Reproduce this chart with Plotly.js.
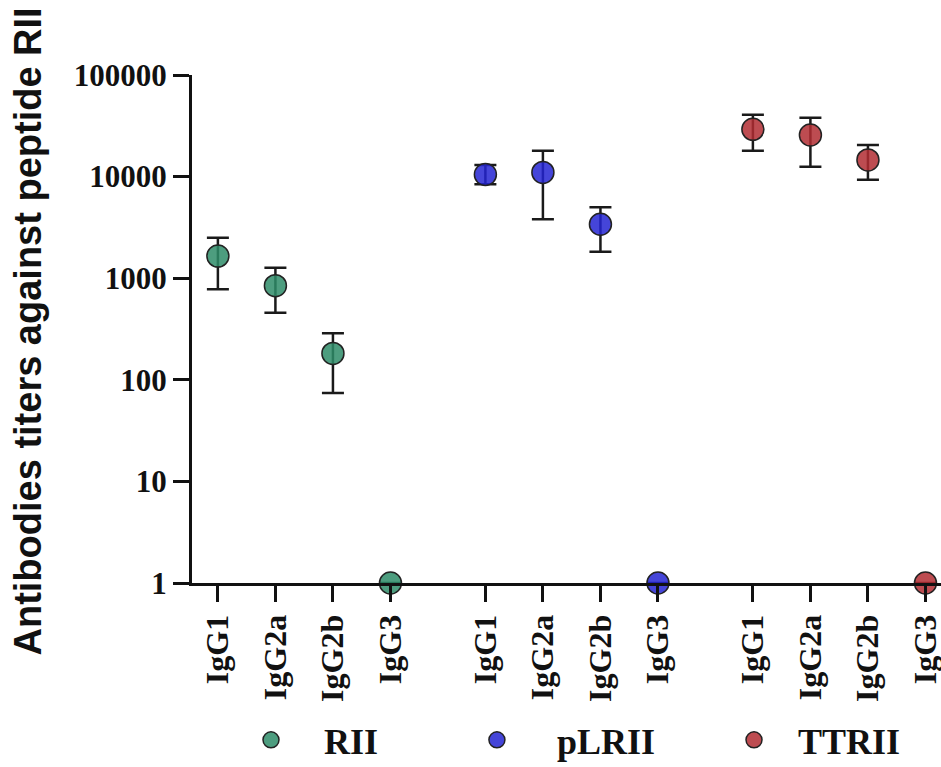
<!DOCTYPE html>
<html><head><meta charset="utf-8">
<script src="https://cdn.plot.ly/plotly-3.0.1.min.js"></script>
<style>html,body{margin:0;padding:0;background:#fff}</style>
</head><body><div id="chart" style="width:941px;height:767px"></div>
<script>
const categories = ['IgG1', 'IgG2a', 'IgG2b', 'IgG3'];
const groups = ['RII', 'pLRII', 'TTRII'];
const riiTiter   = [1650, 845, 182, 1];
const riiUpper   = [2500, 1270, 287, 1];
const riiLower   = [780, 457, 74, 1];
const plriiTiter = [10500, 11000, 3400, 1];
const plriiUpper = [13000, 18000, 5000, 1];
const plriiLower = [8400, 3800, 1820, 1];
const ttriiTiter = [29200, 25700, 14600, 1];
const ttriiUpper = [40700, 38000, 20500, 1];
const ttriiLower = [18000, 12500, 9300, 1];
const yTickVals = [1, 10, 100, 1000, 10000, 100000];
const yTickText = ['1', '10', '100', '1000', '10000', '100000'];

const groupStride = 4.65;
const colors = ['rgba(46,140,105,0.85)', 'rgba(36,36,210,0.85)', 'rgba(178,45,50,0.85)'];
const titers = [riiTiter, plriiTiter, ttriiTiter];
const uppers = [riiUpper, plriiUpper, ttriiUpper];
const lowers = [riiLower, plriiLower, ttriiLower];
const legendIds = ['legend', 'legend2', 'legend3'];
const legendX = [0.0347, 0.327, 0.6916];
const legendItemWidth = [96, 110, 78];

const serif = 'Liberation Serif, Times New Roman, serif';
const traces = groups.map((g, gi) => ({
  type: 'scatter', mode: 'markers', name: g,
  legend: legendIds[gi],
  x: categories.map((c, i) => gi * groupStride + i),
  y: titers[gi],
  cliponaxis: false,
  marker: {size: 22, color: colors[gi], line: {color: '#222', width: 1.5}},
  error_y: {type: 'data', symmetric: false,
    array: uppers[gi].map((u, i) => u - titers[gi][i]),
    arrayminus: titers[gi].map((t, i) => t - lowers[gi][i]),
    color: '#1a1a1a', thickness: 2.5, width: 11}
}));

const tickVals = [], tickText = [];
groups.forEach((g, gi) => categories.forEach((c, i) => { tickVals.push(gi * groupStride + i); tickText.push(c); }));

const layout = {
  width: 941, height: 767,
  margin: {l: 192, r: 0, t: 75, b: 184, autoexpand: false},
  paper_bgcolor: '#fff', plot_bgcolor: '#fff',
  showlegend: true,
  xaxis: {range: [-0.45, 12.57], showline: true, linewidth: 3, linecolor: '#111',
    ticks: 'outside', ticklen: 16, tickwidth: 3, tickcolor: '#111',
    tickvals: tickVals, ticktext: tickText, tickangle: -90, ticklabeloverflow: 'allow',
    tickfont: {family: serif, size: 32, color: '#111', weight: 'bold'},
    showgrid: false, zeroline: false, automargin: false},
  yaxis: {type: 'log', range: [0, 5], showline: true, linewidth: 3, linecolor: '#111',
    ticks: 'outside', ticklen: 16, tickwidth: 3, tickcolor: '#111',
    tickvals: yTickVals, ticktext: yTickText,
    tickfont: {family: serif, size: 31, color: '#111', weight: 'bold'},
    showgrid: false, zeroline: false, automargin: false},
  annotations: [{text: 'Antibodies titers against peptide RII', textangle: -90,
    xref: 'paper', yref: 'paper', x: -0.219, y: 0.495, xanchor: 'center', yanchor: 'middle',
    showarrow: false, font: {family: 'Liberation Sans, Arial, sans-serif', size: 38, color: '#111', weight: 'bold'}}]
};
legendIds.forEach((id, gi) => {
  layout[id] = {orientation: 'h', x: legendX[gi], xanchor: 'left', y: -0.309, yanchor: 'middle',
    bgcolor: 'rgba(0,0,0,0)', font: {family: serif, size: 36, color: '#111', weight: 'bold'},
    itemwidth: legendItemWidth[gi]};
});
Plotly.newPlot('chart', traces, layout, {displayModeBar: false});
</script></body></html>
